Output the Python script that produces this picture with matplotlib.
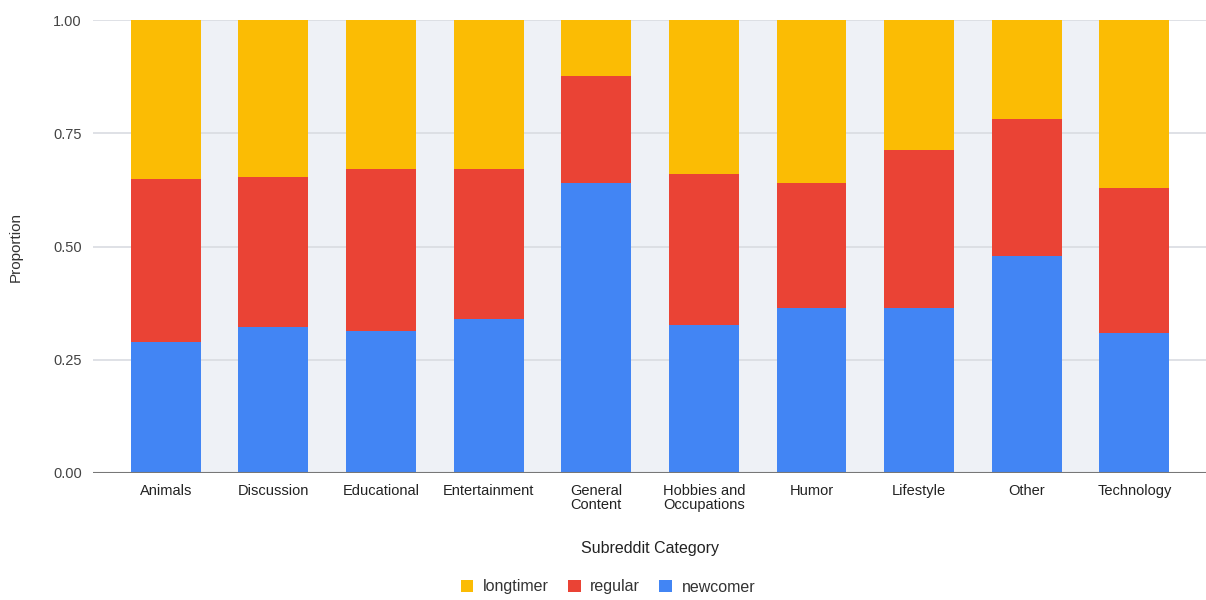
import matplotlib
matplotlib.use("Agg")
import matplotlib.pyplot as plt
import numpy as np

plt.rcParams['font.family'] = ['Liberation Sans', 'DejaVu Sans']

categories = ["Animals", "Discussion", "Educational", "Entertainment", "General\nContent",
              "Hobbies and\nOccupations", "Humor", "Lifestyle", "Other", "Technology"]
newcomer = [0.290, 0.323, 0.314, 0.340, 0.640, 0.327, 0.365, 0.365, 0.478, 0.309]
regular_top = [0.649, 0.654, 0.671, 0.671, 0.877, 0.660, 0.640, 0.713, 0.781, 0.630]
regular = [r - n for r, n in zip(regular_top, newcomer)]
longtimer = [1 - r for r in regular_top]

c_new = "#4285F4"
c_reg = "#EA4335"
c_long = "#FBBC04"

fig = plt.figure(figsize=(12.06, 6.0), dpi=100)
ax = fig.add_axes([93/1206, 1 - 473/600, (1206 - 93)/1206, (473 - 20)/600])

x = np.arange(len(categories))
w = 0.65
ax.axvspan(-w/2, len(categories) - 1 + w/2, ymin=0, ymax=1, color="#EEF1F6", zorder=0, lw=0)
for yv in [0.25, 0.5, 0.75, 1.0]:
    ax.axhline(yv, color="#D9DCE1", lw=1.2, zorder=0.5)

b_new = ax.bar(x, newcomer, width=w, color=c_new, label="newcomer", zorder=2)
b_reg = ax.bar(x, regular, width=w, bottom=newcomer, color=c_reg, label="regular", zorder=2)
b_long = ax.bar(x, longtimer, width=w, bottom=regular_top, color=c_long, label="longtimer", zorder=2)
ax.axhline(0, color="#777777", lw=1.5, zorder=3)

ax.set_xlim(-0.675, len(categories) - 1 + 0.665)
ax.set_ylim(0, 1.0)
ax.set_yticks([0, 0.25, 0.5, 0.75, 1.0])
ax.set_yticklabels(["0.00", "0.25", "0.50", "0.75", "1.00"])
ax.set_xticks(x)
ax.set_xticklabels(categories, linespacing=0.95)
ax.tick_params(axis='both', length=0, labelsize=10.5, colors="#222222", pad=8)
ax.tick_params(axis='y', pad=8, labelcolor="#444444")
for s in ax.spines.values():
    s.set_visible(False)

ax.set_ylabel("Proportion", fontsize=11, color="#333333", labelpad=22)
fig.text(650/1206, 1 - 548/600, "Subreddit Category", ha="center", va="center", fontsize=11.5, color="#222222")

leg = fig.legend(handles=[b_long, b_reg, b_new], labels=["longtimer", "regular", "newcomer"],
                 loc="center", bbox_to_anchor=(608/1206, 1 - 587/600), ncol=3, frameon=False,
                 fontsize=11.5, handlelength=0.8, handleheight=0.8, handletextpad=0.6, columnspacing=1.2)
for t in leg.get_texts():
    t.set_color("#333333")

fig.savefig("out.png", dpi=100, facecolor="white")
